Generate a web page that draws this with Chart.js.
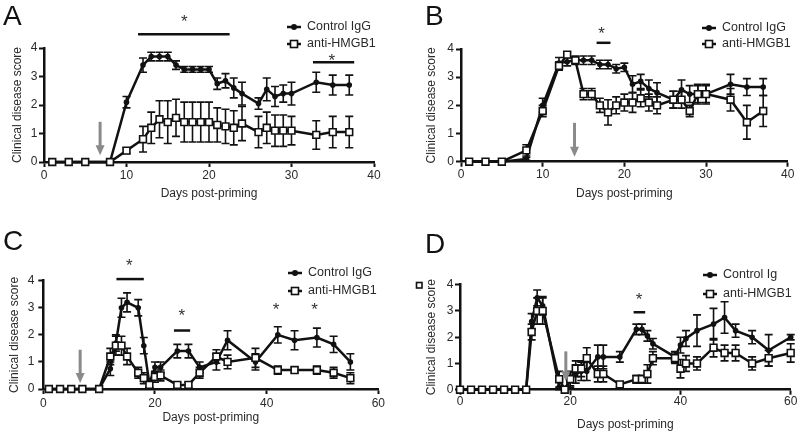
<!DOCTYPE html>
<html>
<head>
<meta charset="utf-8">
<script src="https://cdn.jsdelivr.net/npm/chart.js@4.4.1/dist/chart.umd.min.js"></script>
<style>
html, body { margin: 0; padding: 0; background: #fff; }
#wrap { position: relative; width: 800px; height: 436px; overflow: hidden; }
.panel { position: absolute; width: 400px; height: 218px; }
</style>
</head>
<body>
<div id="wrap">
  <div class="panel" style="left:0;top:0"><canvas id="chartA" width="400" height="218"></canvas></div>
  <div class="panel" style="left:400px;top:0"><canvas id="chartB" width="400" height="218"></canvas></div>
  <div class="panel" style="left:0;top:218px"><canvas id="chartC" width="400" height="218"></canvas></div>
  <div class="panel" style="left:400px;top:218px"><canvas id="chartD" width="400" height="218"></canvas></div>
</div>
<script>
// panel A
const aDays = [1, 3, 5, 8, 10, 12, 13, 14, 15, 16, 17, 18, 19, 20, 21, 22, 23, 24, 26, 27, 28, 29, 30, 33, 35, 37];
const aControl = [0, 0, 0, 0, 2.1, 3.4, 3.7, 3.7, 3.7, 3.4, 3.25, 3.25, 3.25, 3.25, 2.75, 2.85, 2.6, 2.4, 2.05, 2.55, 2.3, 2.4, 2.4, 2.8, 2.7, 2.7];
const aControlErr = [0, 0, 0, 0, 0.2, 0.25, 0.15, 0.15, 0.15, 0.15, 0.1, 0.1, 0.1, 0.1, 0.2, 0.25, 0.35, 0.4, 0.2, 0.4, 0.35, 0.3, 0.4, 0.35, 0.35, 0.35];
const aAnti = [0, 0, 0, 0, 0.4, 0.8, 1.2, 1.5, 1.4, 1.55, 1.4, 1.4, 1.4, 1.4, 1.3, 1.25, 1.2, 1.35, 1.05, 1.2, 1.1, 1.1, 1.1, 0.95, 1.05, 1.05];
const aAntiErr = [0, 0, 0, 0, 0.1, 0.45, 0.55, 0.65, 0.75, 0.65, 0.7, 0.7, 0.7, 0.7, 0.6, 0.6, 0.6, 0.6, 0.55, 0.55, 0.55, 0.55, 0.5, 0.5, 0.55, 0.55];

// panel B
const bDays = [1, 3, 5, 8, 10, 12, 13, 14, 15, 16, 17, 18, 19, 20, 21, 22, 23, 24, 26, 27, 28, 29, 30, 33, 35, 37];
const bControl = [0, 0, 0, 0.1, 2.0, 3.5, 3.55, 3.6, 3.6, 3.6, 3.45, 3.45, 3.3, 3.35, 2.75, 2.85, 2.6, 2.45, 2.2, 2.55, 2.4, 2.4, 2.4, 2.75, 2.65, 2.65];
const bControlErr = [0, 0, 0, 0.05, 0.25, 0.2, 0.15, 0.15, 0.15, 0.15, 0.15, 0.15, 0.15, 0.15, 0.3, 0.25, 0.3, 0.35, 0.3, 0.35, 0.3, 0.35, 0.35, 0.35, 0.3, 0.3];
const bAnti = [0, 0, 0, 0.4, 1.8, 3.4, 3.8, 3.6, 2.4, 2.4, 2.0, 1.75, 2.0, 2.1, 2.1, 2.25, 2.1, 2.0, 2.2, 2.2, 1.8, 2.4, 2.4, 2.2, 1.4, 1.8];
const bAntiErr = [0, 0, 0, 0.2, 0.2, 0.15, 0.1, 0.1, 0.2, 0.2, 0.25, 0.45, 0.3, 0.3, 0.35, 0.3, 0.3, 0.3, 0.3, 0.3, 0.2, 0.3, 0.3, 0.4, 0.6, 0.55];

// panel C
const cDays = [1, 3, 5, 7, 10, 12, 13, 14, 15, 17, 18, 19, 20, 21, 24, 26, 28, 31, 33, 38, 42, 45, 49, 52, 55];
const cControl = [0, 0, 0, 0, 0, 0.75, 1.7, 3.0, 3.2, 3.0, 1.6, 0.2, 0.8, 0.8, 1.4, 1.4, 0.8, 1.0, 1.8, 1.0, 2.0, 1.8, 1.9, 1.65, 1.0];
const cControlErr = [0, 0, 0, 0, 0, 0.25, 0.3, 0.35, 0.35, 0.3, 0.3, 0.15, 0.2, 0.2, 0.25, 0.25, 0.2, 0.3, 0.35, 0.3, 0.3, 0.35, 0.35, 0.3, 0.3];
const cAnti = [0, 0, 0, 0, 0, 1.2, 1.6, 1.6, 1.2, 0.6, 0.4, 0.15, 0.45, 0.5, 0.15, 0.15, 0.6, 1.2, 1.0, 1.15, 0.7, 0.7, 0.7, 0.6, 0.4];
const cAntiErr = [0, 0, 0, 0, 0, 0.3, 0.35, 0.35, 0.3, 0.2, 0.2, 0.1, 0.2, 0.2, 0.1, 0.1, 0.2, 0.25, 0.25, 0.35, 0.15, 0.1, 0.15, 0.2, 0.2];

// panel D
const dDays = [0, 2, 4, 6, 8, 10, 12, 13, 14, 15, 18, 19, 20, 21, 22, 23, 25, 26, 29, 32, 33, 34, 35, 39, 40, 41, 43, 46, 48, 50, 53, 56, 60];
const dControl = [0, 0, 0, 0, 0, 0, 0, 2.6, 3.5, 3.2, 0.1, 0, 0.4, 0.6, 0.7, 0.7, 1.25, 1.25, 1.25, 2.3, 2.3, 2.05, 1.75, 1.25, 1.7, 1.95, 2.25, 2.5, 2.75, 2.25, 2.0, 1.5, 2.0];
const dControlErr = [0, 0, 0, 0, 0, 0, 0, 0.3, 0.3, 0.35, 0.3, 0, 0.3, 0.35, 0.35, 0.35, 0.45, 0.45, 0.2, 0.2, 0.2, 0.2, 0.2, 0.2, 0.3, 0.3, 0.6, 0.6, 0.6, 0.25, 0.25, 0.6, 0.1];
const dAnti = [0, 0, 0, 0, 0, 0, 0, 2.2, 3.0, 3.0, 0.4, 0, 0.4, 0.8, 0.8, 1.2, 0.6, 0.6, 0.2, 0.4, 0.4, 0.6, 1.2, 1.2, 0.8, 1.0, 1.0, 1.6, 1.4, 1.4, 1.0, 1.2, 1.4];
const dAntiErr = [0, 0, 0, 0, 0, 0, 0, 0.3, 0.5, 0.5, 0.3, 0, 0.25, 0.3, 0.3, 0.4, 0.3, 0.3, 0.1, 0.15, 0.15, 0.35, 0.25, 0.2, 0.35, 0.3, 0.25, 0.35, 0.3, 0.3, 0.25, 0.3, 0.35];

const yTicks = [0, 1, 2, 3, 4];
const FONT = "'Liberation Sans', Arial, sans-serif";
const INK = '#111';
const TEXT = '#2a2a2a';

const panels = {
    chartA: {
        days: aDays, control: aControl, controlErr: aControlErr, anti: aAnti, antiErr: aAntiErr,
        xMax: 40, xStep: 10, controlLabel: 'Control IgG', letter: 'A', letterPos: [3, 25],
        box: { padLeft: 10, yAxisW: 34, padTop: 48, padRight: 26, xAxisH: 38.5, padBottom: 17.5, xTickPad: 1, yTickPad: 1.5 },
        legend: { x: 287, y: 27, gap: 17 },
        arrow: { day: 6.8, from: 1.41, to: 0.24 },
        bars: [{ from: 11.4, to: 22.5, y: 4.48 }, { from: 32.6, to: 37.6, y: 3.5 }],
        stars: [{ day: 17, y: 5.07 }, { day: 34.9, y: 3.71 }]
    },
    chartB: {
        days: bDays, control: bControl, controlErr: bControlErr, anti: bAnti, antiErr: bAntiErr,
        xMax: 40, xStep: 10, controlLabel: 'Control IgG', letter: 'B', letterPos: [25, 25],
        box: { padLeft: 24.5, yAxisW: 36.5, padTop: 49, padRight: 12.3, xAxisH: 38.8, padBottom: 17.5, xTickPad: 1, yTickPad: 2 },
        legend: { x: 302, y: 28, gap: 16 },
        arrow: { day: 13.9, from: 1.38, to: 0.18 },
        bars: [{ from: 16.6, to: 18.3, y: 4.22 }],
        stars: [{ day: 17.2, y: 4.71 }]
    },
    chartC: {
        days: cDays, control: cControl, controlErr: cControlErr, anti: cAnti, antiErr: cAntiErr,
        xMax: 60, xStep: 20, controlLabel: 'Control IgG', letter: 'C', letterPos: [3, 32],
        box: { padLeft: 7.8, yAxisW: 35.5, padTop: 62.7, padRight: 21.7, xAxisH: 36.2, padBottom: 10.8, xTickPad: 2, yTickPad: 4 },
        legend: { x: 288, y: 55, gap: 18 },
        arrow: { day: 6.6, from: 1.45, to: 0.22 },
        bars: [{ from: 13.1, to: 18.0, y: 4.06 }, { from: 23.4, to: 26.3, y: 2.16 }],
        stars: [{ day: 15.4, y: 4.72 }, { day: 24.8, y: 2.87 }, { day: 41.7, y: 3.09 }, { day: 48.6, y: 3.09 }]
    },
    chartD: {
        days: dDays, control: dControl, controlErr: dControlErr, anti: dAnti, antiErr: dAntiErr,
        xMax: 60, xStep: 20, controlLabel: 'Control Ig', letter: 'D', letterPos: [25, 35],
        box: { padLeft: 24.5, yAxisW: 35.5, padTop: 66.7, padRight: 9.3, xAxisH: 42.2, padBottom: 4.1, xTickPad: 0, yTickPad: 1.7 },
        legend: { x: 303, y: 57, gap: 19 },
        arrow: { day: 19.2, from: 1.46, to: 0.32 },
        bars: [{ from: 31.5, to: 33.6, y: 2.95 }],
        stars: [{ day: 32.5, y: 3.6 }],
        glyph: [16.5, 64.5]
    }
};

function drawErrorBars(chart) {
    const ctx = chart.ctx;
    const yScale = chart.scales.y;
    ctx.save();
    ctx.strokeStyle = INK;
    ctx.lineWidth = 1.6;
    chart.data.datasets.forEach((ds, i) => {
        const meta = chart.getDatasetMeta(i);
        meta.data.forEach((pt, j) => {
            const err = ds.errors[j];
            if (!err) return;
            const v = ds.data[j].y;
            const top = yScale.getPixelForValue(v + err);
            const bot = yScale.getPixelForValue(Math.max(0, v - err));
            ctx.beginPath();
            ctx.moveTo(pt.x, top);
            ctx.lineTo(pt.x, bot);
            ctx.moveTo(pt.x - 4, top);
            ctx.lineTo(pt.x + 4, top);
            ctx.moveTo(pt.x - 4, bot);
            ctx.lineTo(pt.x + 4, bot);
            ctx.stroke();
        });
    });
    ctx.restore();
}

const decor = {
    id: 'decor',
    beforeDatasetsDraw(chart) {
        drawErrorBars(chart);
    },
    afterDraw(chart) {
        const p = panels[chart.canvas.id];
        const ctx = chart.ctx;
        const xs = chart.scales.x;
        const ys = chart.scales.y;
        ctx.save();

        // panel letter
        ctx.fillStyle = INK;
        ctx.font = '28px ' + FONT;
        ctx.textBaseline = 'alphabetic';
        ctx.textAlign = 'left';
        ctx.fillText(p.letter, p.letterPos[0], p.letterPos[1]);

        // significance bars
        ctx.strokeStyle = INK;
        ctx.lineWidth = 2.5;
        p.bars.forEach(b => {
            const y = ys.getPixelForValue(b.y);
            ctx.beginPath();
            ctx.moveTo(xs.getPixelForValue(b.from), y);
            ctx.lineTo(xs.getPixelForValue(b.to), y);
            ctx.stroke();
        });

        // asterisks
        ctx.fillStyle = '#333';
        ctx.font = '17px ' + FONT;
        ctx.textAlign = 'center';
        p.stars.forEach(s => {
            ctx.fillText('*', xs.getPixelForValue(s.day), ys.getPixelForValue(s.y) + 0.57 * 17);
        });

        // treatment arrow
        const ax = xs.getPixelForValue(p.arrow.day);
        const ay1 = ys.getPixelForValue(p.arrow.from);
        const ay2 = ys.getPixelForValue(p.arrow.to);
        ctx.strokeStyle = '#8a8a8a';
        ctx.fillStyle = '#8a8a8a';
        ctx.lineWidth = 3;
        ctx.beginPath();
        ctx.moveTo(ax, ay1);
        ctx.lineTo(ax, ay2 - 8);
        ctx.stroke();
        ctx.beginPath();
        ctx.moveTo(ax - 4.5, ay2 - 10);
        ctx.lineTo(ax + 4.5, ay2 - 10);
        ctx.lineTo(ax, ay2);
        ctx.closePath();
        ctx.fill();

        // legend
        const lg = p.legend;
        ctx.strokeStyle = INK;
        ctx.lineWidth = 2.5;
        ctx.font = '12.5px ' + FONT;
        ctx.textAlign = 'left';
        ctx.textBaseline = 'middle';
        ctx.beginPath();
        ctx.moveTo(lg.x, lg.y);
        ctx.lineTo(lg.x + 14, lg.y);
        ctx.stroke();
        ctx.fillStyle = INK;
        ctx.beginPath();
        ctx.arc(lg.x + 7, lg.y, 3, 0, Math.PI * 2);
        ctx.fill();
        ctx.fillStyle = TEXT;
        ctx.fillText(p.controlLabel, lg.x + 20, lg.y);

        const y2 = lg.y + lg.gap;
        ctx.beginPath();
        ctx.moveTo(lg.x, y2);
        ctx.lineTo(lg.x + 14, y2);
        ctx.stroke();
        ctx.fillStyle = '#fff';
        ctx.lineWidth = 1.6;
        ctx.fillRect(lg.x + 3.5, y2 - 3.5, 7, 7);
        ctx.strokeRect(lg.x + 3.5, y2 - 3.5, 7, 7);
        ctx.fillStyle = TEXT;
        ctx.fillText('anti-HMGB1', lg.x + 20, y2);

        if (p.glyph) {
            ctx.strokeStyle = INK;
            ctx.lineWidth = 1.6;
            ctx.strokeRect(p.glyph[0], p.glyph[1], 5.5, 5.5);
        }
        ctx.restore();
    }
};

function buildChart(id) {
    const p = panels[id];
    const b = p.box;
    const tickFont = { family: FONT, size: 12 };
    return new Chart(document.getElementById(id), {
        type: 'line',
        data: {
            datasets: [
                {
                    label: p.controlLabel,
                    data: p.days.map((d, i) => ({ x: d, y: p.control[i] })),
                    errors: p.controlErr,
                    borderColor: INK,
                    backgroundColor: INK,
                    borderWidth: 2.5,
                    pointStyle: 'circle',
                    pointRadius: 2.8,
                    pointBorderWidth: 0,
                    tension: 0,
                    clip: false,
                    order: 2
                },
                {
                    label: 'anti-HMGB1',
                    data: p.days.map((d, i) => ({ x: d, y: p.anti[i] })),
                    errors: p.antiErr,
                    borderColor: INK,
                    backgroundColor: '#fff',
                    borderWidth: 2.5,
                    pointStyle: 'rect',
                    pointRadius: 4.8,
                    pointBorderWidth: 1.6,
                    tension: 0,
                    clip: false,
                    order: 1
                }
            ]
        },
        options: {
            responsive: false,
            animation: false,
            devicePixelRatio: 1,
            layout: { padding: { left: b.padLeft, top: b.padTop, right: b.padRight, bottom: b.padBottom } },
            plugins: {
                legend: { display: false },
                tooltip: { enabled: false }
            },
            scales: {
                x: {
                    type: 'linear',
                    min: 0,
                    max: p.xMax,
                    ticks: { stepSize: p.xStep, padding: b.xTickPad, color: TEXT, font: tickFont, maxRotation: 0 },
                    grid: { drawOnChartArea: false, tickLength: 5, tickWidth: 2, tickColor: INK },
                    border: { color: INK, width: 2.5 },
                    title: { display: true, text: 'Days post-priming', padding: 0, color: TEXT, font: tickFont },
                    afterFit: s => { s.height = b.xAxisH; }
                },
                y: {
                    type: 'linear',
                    min: yTicks[0],
                    max: yTicks[yTicks.length - 1],
                    afterBuildTicks: s => { s.ticks = yTicks.map(v => ({ value: v })); },
                    ticks: { padding: b.yTickPad, color: TEXT, font: tickFont },
                    grid: { drawOnChartArea: false, tickLength: 5, tickWidth: 2, tickColor: INK },
                    border: { color: INK, width: 2.5 },
                    title: { display: true, text: 'Clinical disease score', padding: 0, color: TEXT, font: tickFont },
                    afterFit: s => { s.width = b.yAxisW; }
                }
            }
        },
        plugins: [decor]
    });
}

['chartA', 'chartB', 'chartC', 'chartD'].forEach(buildChart);
</script>
</body>
</html>
